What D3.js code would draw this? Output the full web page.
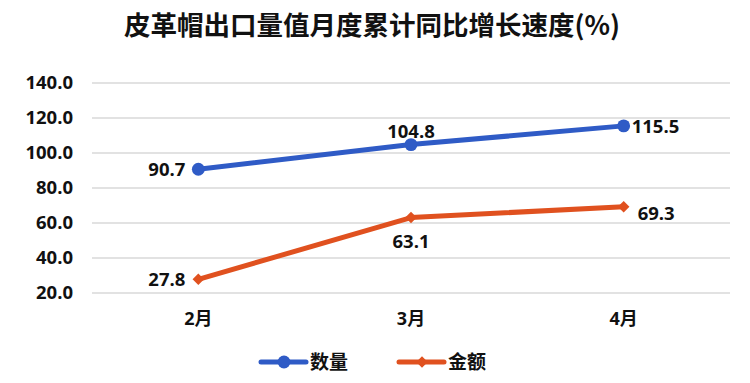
<!DOCTYPE html>
<html>
<head>
<meta charset="utf-8">
<script src="https://cdn.jsdelivr.net/npm/d3@7"></script>
<style>
  body { margin: 0; background: #fff; }
  svg text { font-family: "Open Sans", "Noto Sans CJK SC", sans-serif; font-weight: 700; fill: #111; }
</style>
</head>
<body>
<div id="chart"></div>
<script>
// Chart data
const months = ['2月', '3月', '4月'];
const quantity = [90.7, 104.8, 115.5];
const amount = [27.8, 63.1, 69.3];
const yTicks = [20, 40, 60, 80, 100, 120, 140];

const W = 750, H = 383;
const margin = { top: 83, right: 20, bottom: 90, left: 92 };
const width = 730 - margin.left;
const height = 293 - margin.top;

const svg = d3.select('#chart').append('svg')
    .attr('width', W).attr('height', H);

// Title
svg.append('text')
    .attr('x', 372).attr('y', 35)
    .attr('text-anchor', 'middle')
    .style('font-family', '"Noto Sans CJK SC", sans-serif')
    .style('font-size', '26.5px')
    .text('皮革帽出口量值月度累计同比增长速度(%)');

const g = svg.append('g').attr('transform', `translate(${margin.left},${margin.top})`);

const x = d3.scaleBand().domain(months).range([0, width]);
const y = d3.scaleLinear().domain([20, 140]).range([height, 0]);
const cx = d => x(d) + x.bandwidth() / 2;

// Grid lines
g.append('g')
    .selectAll('line')
    .data(yTicks)
    .join('line')
    .attr('x1', 0).attr('x2', width)
    .attr('y1', d => y(d)).attr('y2', d => y(d))
    .attr('stroke', '#d9d9d9')
    .attr('stroke-width', 1.5);

// Y axis
const yAxis = g.append('g')
    .attr('transform', 'translate(-9,0)')
    .call(d3.axisLeft(y).tickValues(yTicks).tickFormat(d => d.toFixed(1)).tickSize(0).tickPadding(10));
yAxis.select('.domain').remove();
yAxis.selectAll('text').style('font-size', '18.5px').attr('fill', '#111');

// X axis
const xAxis = g.append('g')
    .attr('transform', `translate(0,${height})`)
    .call(d3.axisBottom(x).tickSize(0).tickPadding(19));
xAxis.select('.domain').remove();
xAxis.selectAll('text').style('font-size', '18px').attr('fill', '#111');

const series = [
    { name: '数量', values: quantity, color: '#2F5BC6', symbol: d3.symbolCircle, size: 130 },
    { name: '金额', values: amount, color: '#E0511F', symbol: d3.symbolDiamond2, size: 85 }
];

const line = d3.line().x((d, i) => cx(months[i])).y(d => y(d));

series.forEach(s => {
    g.append('path')
        .datum(s.values)
        .attr('fill', 'none')
        .attr('stroke', s.color)
        .attr('stroke-width', 5)
        .attr('stroke-linejoin', 'round')
        .attr('d', line);

    g.selectAll(null)
        .data(s.values)
        .join('path')
        .attr('transform', (d, i) => `translate(${cx(months[i])},${y(d)})`)
        .attr('d', d3.symbol().type(s.symbol).size(s.size))
        .attr('fill', s.color);
});

// Value labels: position per point (left, above, right / left, below, right)
const labelPos = [
    [{ dx: -13, dy: 7, anchor: 'end' }, { dx: 0, dy: -7, anchor: 'middle' }, { dx: 8, dy: 7, anchor: 'start' }],
    [{ dx: -13, dy: 7, anchor: 'end' }, { dx: 0, dy: 30, anchor: 'middle' }, { dx: 14, dy: 13, anchor: 'start' }]
];

series.forEach((s, si) => {
    g.selectAll(null)
        .data(s.values)
        .join('text')
        .attr('x', (d, i) => cx(months[i]) + labelPos[si][i].dx)
        .attr('y', (d, i) => y(d) + labelPos[si][i].dy)
        .attr('text-anchor', (d, i) => labelPos[si][i].anchor)
        .style('font-size', '18.5px')
        .text(d => d.toFixed(1));
});

// Legend
const legend = svg.append('g').attr('transform', 'translate(261,362)');
series.forEach((s, i) => {
    const lg = legend.append('g').attr('transform', `translate(${i * 138},0)`);
    lg.append('line')
        .attr('x1', 0).attr('x2', 45)
        .attr('stroke', s.color).attr('stroke-width', 5).attr('stroke-linecap', 'round');
    lg.append('path')
        .attr('transform', 'translate(23,0)')
        .attr('d', d3.symbol().type(s.symbol).size(s.size))
        .attr('fill', s.color);
    lg.append('text')
        .attr('x', 49).attr('y', 7)
        .style('font-family', '"Noto Sans CJK SC", sans-serif')
        .style('font-size', '19px')
        .text(s.name);
});
</script>
</body>
</html>
